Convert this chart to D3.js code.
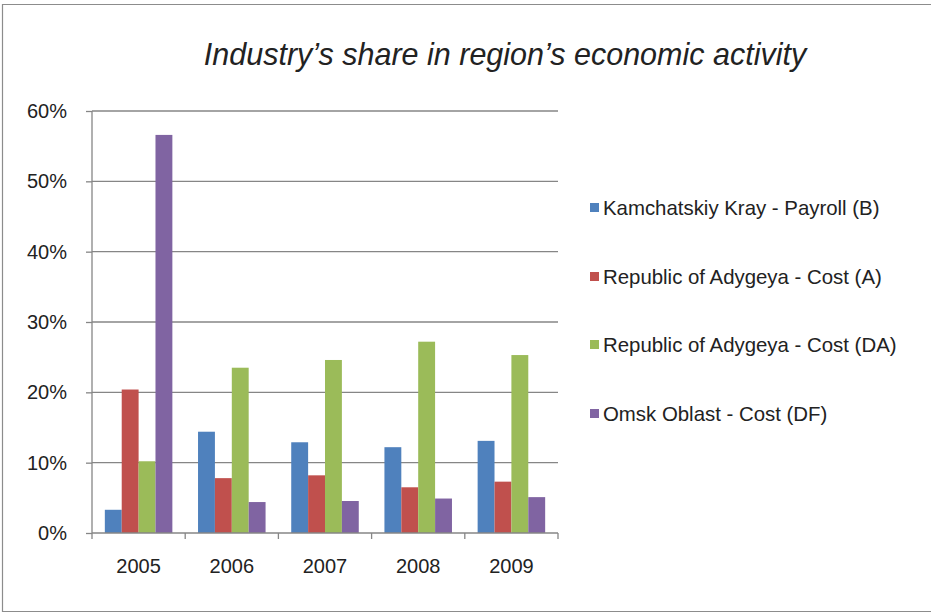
<!DOCTYPE html>
<html>
<head>
<meta charset="utf-8">
<script src="https://cdn.jsdelivr.net/npm/d3@7"></script>
<style>
  body { margin: 0; background: #fff; }
  text { font-family: "Liberation Sans", Arial, sans-serif; fill: #222; }
</style>
</head>
<body>
<div id="chart"></div>
<script>
const years = ["2005", "2006", "2007", "2008", "2009"];
const seriesNames = [
  "Kamchatskiy Kray - Payroll (B)",
  "Republic of Adygeya - Cost (A)",
  "Republic of Adygeya - Cost (DA)",
  "Omsk Oblast - Cost (DF)"
];
const kamchatskiyPayroll = [3.3, 14.4, 12.9, 12.2, 13.1];
const adygeyaCostA = [20.4, 7.8, 8.2, 6.5, 7.3];
const adygeyaCostDA = [10.2, 23.5, 24.6, 27.2, 25.3];
const omskCostDF = [56.6, 4.4, 4.55, 4.9, 5.1];
const yTicks = [0, 10, 20, 30, 40, 50, 60];
const colors = ["#4F81BD", "#C0504D", "#9BBB59", "#8064A2"];

const allSeries = [kamchatskiyPayroll, adygeyaCostA, adygeyaCostDA, omskCostDF];
const data = years.map(function (y, i) {
  return { year: y, values: allSeries.map(function (s, k) { return { key: k, value: s[i] }; }) };
});

const W = 931, H = 613;
const plot = { left: 92, right: 558, top: 111, bottom: 533 };

const svg = d3.select("#chart").append("svg")
  .attr("width", W)
  .attr("height", H);

// outer frame (left, top and bottom edges only)
svg.append("path")
  .attr("d", "M" + W + ",4.5H2.5V611.5H" + W)
  .attr("fill", "none")
  .attr("stroke", "#8c8c8c")
  .attr("stroke-width", 1.2);

svg.append("text")
  .attr("x", 505)
  .attr("y", 65)
  .attr("text-anchor", "middle")
  .style("font-style", "italic")
  .style("font-size", "30.5px")
  .text("Industry\u2019s share in region\u2019s economic activity");

const x0 = d3.scaleBand()
  .domain(years)
  .range([plot.left, plot.right]);

const x1 = d3.scaleBand()
  .domain(d3.range(seriesNames.length))
  .range([0, x0.bandwidth()])
  .paddingOuter(0.76);

const y = d3.scaleLinear()
  .domain([0, 60])
  .range([plot.bottom, plot.top]);

// gridlines + y axis
const yAxis = svg.append("g")
  .attr("transform", "translate(" + plot.left + ",0)")
  .call(d3.axisLeft(y).tickValues(yTicks).tickSize(6).tickPadding(19)
    .tickFormat(function (d) { return d + "%"; }));
yAxis.select(".domain").remove();
yAxis.selectAll(".tick line").attr("stroke", "#868686").attr("stroke-width", 1.3);
yAxis.selectAll(".tick text").style("font-size", "20px").style("font-family", "Liberation Sans, Arial, sans-serif").attr("fill", "#222");

svg.append("g")
  .selectAll("line")
  .data(yTicks.filter(function (d) { return d > 0; }))
  .enter().append("line")
  .attr("x1", plot.left).attr("x2", plot.right)
  .attr("y1", function (d) { return y(d); })
  .attr("y2", function (d) { return y(d); })
  .attr("stroke", "#868686")
  .attr("stroke-width", 1.3);

svg.append("line")
  .attr("x1", plot.left).attr("x2", plot.left)
  .attr("y1", plot.top).attr("y2", plot.bottom)
  .attr("stroke", "#868686").attr("stroke-width", 1.3);

// bars
svg.append("g")
  .selectAll("g")
  .data(data)
  .enter().append("g")
  .attr("transform", function (d) { return "translate(" + x0(d.year) + ",0)"; })
  .selectAll("rect")
  .data(function (d) { return d.values; })
  .enter().append("rect")
  .attr("x", function (d) { return x1(d.key); })
  .attr("y", function (d) { return y(d.value); })
  .attr("width", x1.bandwidth())
  .attr("height", function (d) { return y(0) - y(d.value); })
  .attr("fill", function (d) { return colors[d.key]; });

// x axis
const boundaries = years.map(function (yr) { return x0(yr); }).concat([plot.right]);
svg.append("line")
  .attr("x1", plot.left).attr("x2", plot.right)
  .attr("y1", plot.bottom).attr("y2", plot.bottom)
  .attr("stroke", "#868686").attr("stroke-width", 1.3);
svg.append("g")
  .selectAll("line")
  .data(boundaries)
  .enter().append("line")
  .attr("x1", function (d) { return d; }).attr("x2", function (d) { return d; })
  .attr("y1", plot.bottom).attr("y2", plot.bottom + 6)
  .attr("stroke", "#868686").attr("stroke-width", 1.3);
svg.append("g")
  .selectAll("text")
  .data(years)
  .enter().append("text")
  .attr("x", function (d) { return x0(d) + x0.bandwidth() / 2; })
  .attr("y", 573)
  .attr("text-anchor", "middle")
  .style("font-size", "20px")
  .text(function (d) { return d; });

// legend
const legendY = [208, 277, 345, 414];
const legend = svg.append("g")
  .selectAll("g")
  .data(seriesNames)
  .enter().append("g")
  .attr("transform", function (d, i) { return "translate(590," + legendY[i] + ")"; });
legend.append("rect")
  .attr("x", 0).attr("y", -5)
  .attr("width", 9).attr("height", 9)
  .attr("fill", function (d, i) { return colors[i]; });
legend.append("text")
  .attr("x", 13)
  .attr("y", 0)
  .attr("dy", "0.35em")
  .style("font-size", "20.4px")
  .text(function (d) { return d; });
</script>
</body>
</html>
